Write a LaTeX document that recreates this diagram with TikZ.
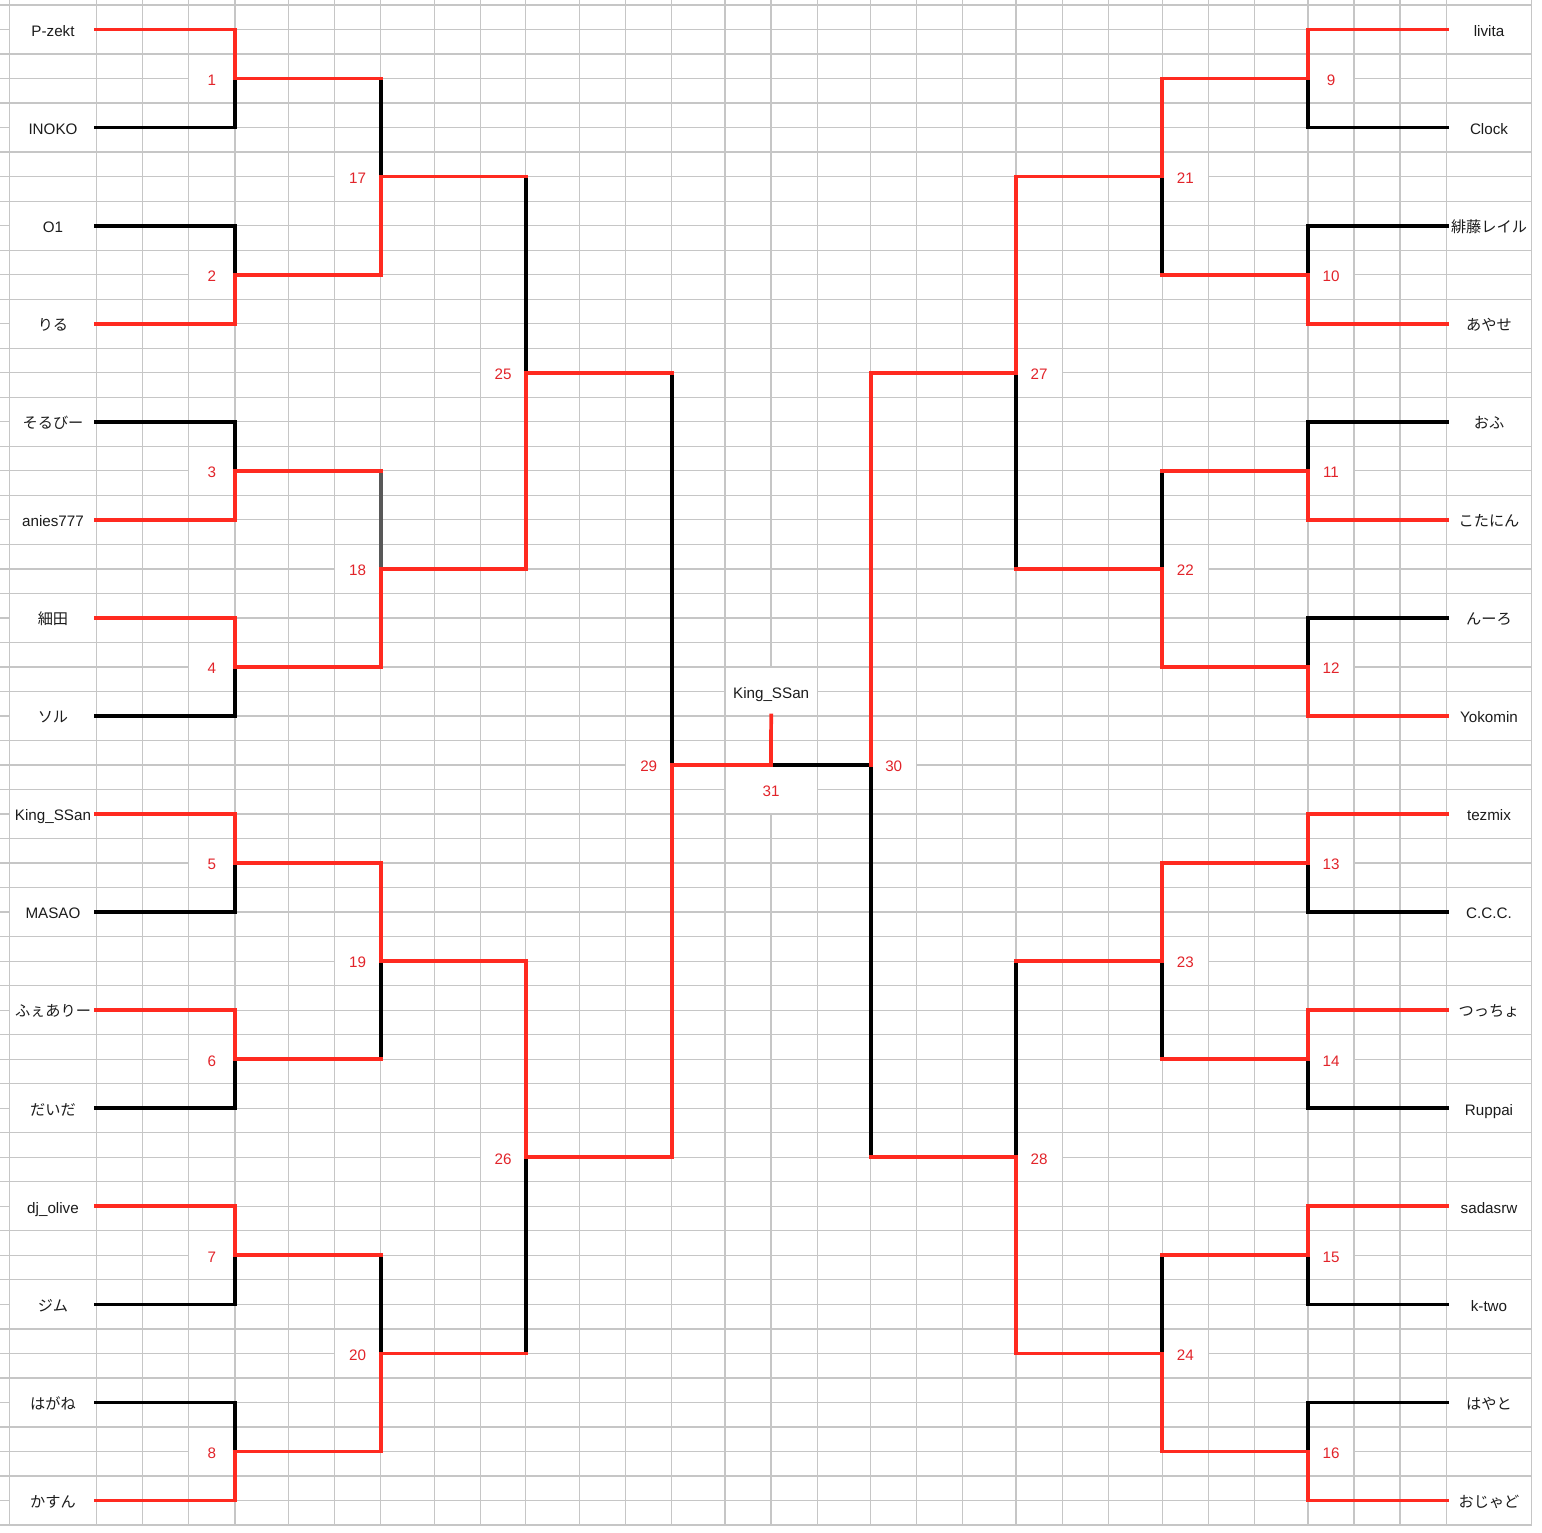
\documentclass[tikz,border=0pt]{standalone}
\usepackage{fontspec}
\setmainfont{Liberation Sans}
\newfontfamily\jp{Noto Sans CJK JP}
\definecolor{brk}{RGB}{255,42,32}
\definecolor{numc}{RGB}{226,36,42}
\definecolor{gridc}{RGB}{198,198,198}
\definecolor{midgray}{RGB}{88,88,88}
\definecolor{txt}{RGB}{28,28,28}
\begin{document}
\begin{tikzpicture}[x=0.75pt,y=-0.75pt,
  gridline/.style={draw=gridc,line width=0.95pt},
  lblL/.style={fill=white,inner sep=0pt,minimum width=64.5pt,minimum height=35.7pt,text height=10.2pt,text depth=0pt,text=txt,font=\fontsize{11.4}{13}\selectfont},
  lblR/.style={lblL,minimum width=63pt},
  numcell/.style={fill=white,inner sep=0pt,minimum width=33.6pt,minimum height=35.7pt,text height=10.2pt,text depth=0pt,text=numc,font=\fontsize{11.4}{13}\selectfont},
  widecell/.style={fill=white,inner sep=0pt,minimum width=68.1pt,minimum height=35.7pt,text height=10.2pt,text depth=0pt,font=\fontsize{11.4}{13}\selectfont},
  wline/.style={draw=brk,line width=2.8pt,line cap=rect},
  lline/.style={draw=black,line width=2.8pt,line cap=rect},
  gline/.style={draw=midgray,line width=2.8pt,line cap=rect}]
\useasboundingbox (0,0) rectangle (1542,1532);
% grid
\foreach \x in {9.3,96.7,142.7,188.7,235,288.3,334.3,380.7,434.3,480.3,525.7,579.3,625.7,671.7,725,771,817.3,870.7,916.7,962.7,1016,1062.3,1108.7,1162.3,1208.3,1254.7,1308,1354,1400,1446.3,1531.7}
  \draw[gridline] (\x,0) -- (\x,1525);
\foreach \r in {0,...,62}
  \draw[gridline] (0,{5+24.516*\r}) -- (1531.7,{5+24.516*\r});
% player cells
\foreach \n [count=\i from 0] in {P-zekt,INOKO,O1,{\jp りる},{\jp そるびー},anies777,{\jp 細田},{\jp ソル},King\_SSan,MASAO,{\jp ふぇありー},{\jp だいだ},dj\_olive,{\jp ジム},{\jp はがね},{\jp かすん}}
  \node[lblL] (pL\i) at (53,{5+24.516*(1+4*\i)}) {\n};
\foreach \n [count=\i from 0] in {livita,Clock,{\jp 緋藤レイル},{\jp あやせ},{\jp おふ},{\jp こたにん},{\jp んーろ},Yokomin,tezmix,C.C.C.,{\jp つっちょ},Ruppai,sadasrw,k-two,{\jp はやと},{\jp おじゃど}}
  \node[lblR] (pR\i) at (1489,{5+24.516*(1+4*\i)}) {\n};
% match cells and vertices
\foreach \j in {0,...,7}{
  \pgfmathtruncatemacro\k{\j+1}\pgfmathtruncatemacro\q{\j+9}
  \pgfmathsetmacro\yy{5+24.516*(3+8*\j)}
  \node[numcell] (n\k) at (211.85,\yy) {\k};
  \coordinate (m\k) at (235,\yy);
  \node[numcell] (n\q) at (1331,\yy) {\q};
  \coordinate (m\q) at (1308,\yy);
}
\foreach \j in {0,...,3}{
  \pgfmathtruncatemacro\k{\j+17}\pgfmathtruncatemacro\q{\j+21}
  \pgfmathsetmacro\yy{5+24.516*(7+16*\j)}
  \node[numcell] (n\k) at (357.5,\yy) {\k};
  \coordinate (m\k) at (380.7,\yy);
  \node[numcell] (n\q) at (1185.3,\yy) {\q};
  \coordinate (m\q) at (1162.3,\yy);
}
\foreach \j in {0,1}{
  \pgfmathtruncatemacro\k{\j+25}\pgfmathtruncatemacro\q{\j+27}
  \pgfmathsetmacro\yy{5+24.516*(15+32*\j)}
  \node[numcell] (n\k) at (503,\yy) {\k};
  \coordinate (m\k) at (525.7,\yy);
  \node[numcell] (n\q) at (1039.15,\yy) {\q};
  \coordinate (m\q) at (1016,\yy);
}
\node[numcell] (n29) at (648.7,{5+24.516*31}) {29};
\coordinate (m29) at (671.7,{5+24.516*31});
\node[numcell] (n30) at (893.7,{5+24.516*31}) {30};
\coordinate (m30) at (870.7,{5+24.516*31});
\coordinate (m31) at (771,{5+24.516*31});
\node[widecell,text=numc] (n31) at (771.15,{5+24.516*32}) {31};
\node[widecell,text=txt] (champ) at (771.15,{5+24.516*28}) {King\_SSan};
% first round: losers (black) then winners (red); flag 1 = top wins
\foreach \j/\t in {0/1,1/0,2/0,3/1,4/1,5/1,6/1,7/0}{
  \pgfmathtruncatemacro\a{2*\j}\pgfmathtruncatemacro\b{2*\j+1}\pgfmathtruncatemacro\k{\j+1}
  \ifnum\t=1
    \draw[lline] (pL\b.east) -| (m\k); \draw[wline] (pL\a.east) -| (m\k);
  \else
    \draw[lline] (pL\a.east) -| (m\k); \draw[wline] (pL\b.east) -| (m\k);
  \fi
}
\foreach \j/\t in {0/1,1/0,2/0,3/0,4/1,5/1,6/1,7/0}{
  \pgfmathtruncatemacro\a{2*\j}\pgfmathtruncatemacro\b{2*\j+1}\pgfmathtruncatemacro\k{\j+9}
  \ifnum\t=1
    \draw[lline] (pR\b.west) -| (m\k); \draw[wline] (pR\a.west) -| (m\k);
  \else
    \draw[lline] (pR\a.west) -| (m\k); \draw[wline] (pR\b.west) -| (m\k);
  \fi
}
% later rounds: black halves
\foreach \c/\p in {1/17,6/19,7/20,17/25,20/26,25/29,10/21,11/22,14/23,15/24,22/27,23/28,28/30}
  \draw[lline] (m\c -| m\p) -- (m\p);
\draw[gline] (m3 -| m18) -- (m18);
\draw[lline] (m30) -- (m31);
% red outputs
\foreach \c/\p in {1/17,2/17,3/18,4/18,5/19,6/19,7/20,8/20,17/25,18/25,19/26,20/26,25/29,26/29,9/21,10/21,11/22,12/22,13/23,14/23,15/24,16/24,21/27,22/27,23/28,24/28,27/30,28/30}
  \draw[wline] (m\c) -- (m\c -| m\p);
% red halves
\foreach \c/\p in {2/17,4/18,5/19,8/20,18/25,19/26,26/29,9/21,12/22,13/23,16/24,21/27,24/28,27/30}
  \draw[wline] (m\c -| m\p) -- (m\p);
\draw[wline] (m29) -- (m31);
\draw[wline] (champ.south) -- (m31);
\end{tikzpicture}
\end{document}
